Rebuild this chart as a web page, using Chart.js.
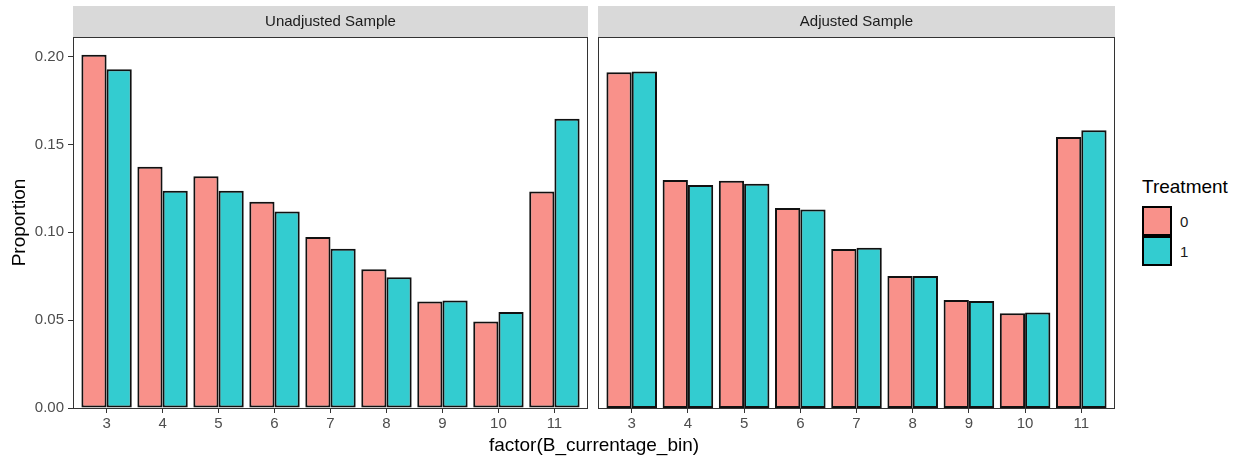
<!DOCTYPE html>
<html>
<head>
<meta charset="utf-8">
<script src="https://cdn.jsdelivr.net/npm/chart.js@4/dist/chart.umd.min.js"></script>
<style>
  body { margin: 0; background: #fff; font-family: "Liberation Sans", Arial, sans-serif; }
  #wrap { position: relative; width: 1242px; height: 462px; overflow: hidden; }
  canvas { position: absolute; top: 0; }
  #xTitle { position: absolute; left: 0; width: 1188px; top: 434px; text-align: center; font-size: 19px; line-height: 22px; color: #000; }
  #legend { position: absolute; left: 1142px; top: 176px; color: #1A1A1A; }
  #legend .title { font-size: 19px; line-height: 22px; margin-bottom: 8px; color: #000; }
  #legend .item { display: flex; align-items: center; height: 30px; }
  #legend .box { width: 26px; height: 26px; border: 2px solid #000; margin-top: -1px; }
  #legend .lbl { font-size: 15px; margin-left: 8px; }
</style>
</head>
<body>
<div id="wrap">
  <canvas id="left" width="592" height="462" style="left:0"></canvas>
  <canvas id="right" width="527" height="462" style="left:592px"></canvas>
  <div id="xTitle">factor(B_currentage_bin)</div>
  <div id="legend"></div>
</div>
<script>
// bins on the x axis
const bins = [3, 4, 5, 6, 7, 8, 9, 10, 11];
const yTicks = [0, 0.05, 0.10, 0.15, 0.20];

// proportions
const unadjTreat0 = [0.2011, 0.1373, 0.1320, 0.1174, 0.0973, 0.0790, 0.0606, 0.0493, 0.1233];
const unadjTreat1 = [0.1928, 0.1237, 0.1237, 0.1118, 0.0907, 0.0744, 0.0612, 0.0547, 0.1646];
const adjTreat0 = [0.1912, 0.1298, 0.1293, 0.1139, 0.0905, 0.0751, 0.0615, 0.0539, 0.1543];
const adjTreat1 = [0.1916, 0.1270, 0.1276, 0.1130, 0.0912, 0.0751, 0.0609, 0.0544, 0.1581];

const treatLabels = ['0', '1'];
const treatColors = ['rgba(248, 118, 109, 0.8)', 'rgba(0, 191, 196, 0.8)'];

const FONT = '"Liberation Sans", Arial, sans-serif';

// grey strip on top of each panel + box round the panel
const panelPlugin = {
  id: 'panel',
  beforeDraw(chart, args, opts) {
    const { ctx, chartArea: a } = chart;
    ctx.save();
    ctx.fillStyle = '#D9D9D9';
    ctx.fillRect(a.left, 6, a.right - a.left, a.top - 6);
    ctx.fillStyle = '#1A1A1A';
    ctx.font = '15px ' + FONT;
    ctx.textAlign = 'center';
    ctx.textBaseline = 'middle';
    ctx.fillText(opts.title, (a.left + a.right) / 2, 22);
    ctx.restore();
  },
  afterDatasetsDraw(chart) {
    const { ctx, chartArea: a } = chart;
    ctx.save();
    ctx.strokeStyle = '#333333';
    ctx.lineWidth = 1;
    ctx.strokeRect(a.left + 0.5, a.top + 0.5, a.right - a.left - 1, a.bottom - a.top);
    ctx.restore();
  }
};

function makeDatasets(series) {
  return series.map((vals, i) => ({
    label: treatLabels[i],
    data: bins.map((b, j) => ({ x: b, y: vals[j] })),
    backgroundColor: treatColors[i],
    borderColor: '#111111',
    borderWidth: 2,
    borderSkipped: false,
    categoryPercentage: 0.9,
    barPercentage: 1.0
  }));
}

function makeChart(id, title, series, showY, padding) {
  return new Chart(document.getElementById(id), {
    type: 'bar',
    data: { datasets: makeDatasets(series) },
    options: {
      responsive: false,
      animation: false,
      layout: { padding: padding },
      plugins: {
        legend: { display: false },
        tooltip: { enabled: false },
        panel: { title: title }
      },
      scales: {
        x: {
          type: 'linear',
          offset: false,
          min: 2.4,
          max: 11.6,
          afterBuildTicks: s => { s.ticks = bins.map(v => ({ value: v })); },
          afterFit: s => { s.height = 54; },
          ticks: {
            color: '#4D4D4D',
            font: { family: FONT, size: 15 },
            padding: 2,
            maxRotation: 0,
            autoSkip: false
          },
          grid: { display: true, offset: false, drawOnChartArea: false, drawTicks: true, tickLength: 5, color: '#333333' },
          border: { display: false }
        },
        y: {
          display: showY,
          min: 0,
          max: 0.2112,
          afterBuildTicks: s => { s.ticks = yTicks.map(v => ({ value: v })); },
          afterFit: s => { s.width = showY ? 73 : 0; },
          ticks: {
            color: '#4D4D4D',
            font: { family: FONT, size: 15 },
            padding: 4,
            callback: v => v.toFixed(2)
          },
          grid: { display: true, drawOnChartArea: false, drawTicks: true, tickLength: 5, color: '#333333' },
          border: { display: false },
          title: {
            display: true,
            text: 'Proportion',
            color: '#000',
            font: { family: FONT, size: 19 },
            padding: { top: 8, bottom: 0 }
          }
        }
      }
    },
    plugins: [panelPlugin]
  });
}

makeChart('left', 'Unadjusted Sample', [unadjTreat0, unadjTreat1], true,
  { top: 37, right: 4, bottom: 0, left: 0 });
makeChart('right', 'Adjusted Sample', [adjTreat0, adjTreat1], false,
  { top: 37, right: 4, bottom: 0, left: 6 });

// legend on the right
const legend = document.getElementById('legend');
legend.innerHTML = '<div class="title">Treatment</div>' +
  treatLabels.map((l, i) =>
    `<div class="item"><div class="box" style="background:${treatColors[i]}"></div><span class="lbl">${l}</span></div>`
  ).join('');
</script>
</body>
</html>
